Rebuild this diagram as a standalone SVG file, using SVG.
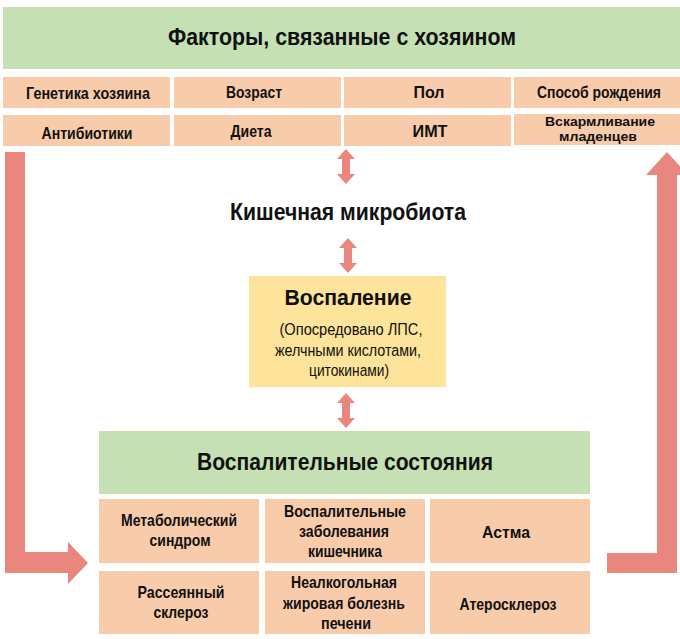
<svg xmlns="http://www.w3.org/2000/svg" width="680" height="639" viewBox="0 0 680 639">
<defs>
<style>
.green{fill:#c5e1b3}
.peach{fill:#f8cbab}
.yellow{fill:#fde49a}
.arr{fill:#e9877e}
text{font-family:"Liberation Sans","Arial",sans-serif;fill:#111;text-anchor:middle;font-weight:bold}
.h{font-size:23px}
.c{font-size:16.5px}
.f{font-size:13.5px}
.s{font-size:16px;font-weight:normal}
</style>
</defs>
<rect width="680" height="639" fill="#fff"/>
<g id="connectors">
<path class="arr" d="M5,152 H25 V552 H68 V542 L88,563 L68,584 V573 H5 Z"/>
<path class="arr" d="M607,553 H657 V175 H646 L667,152 L688,175 H677 V573 H607 Z"/>
<path class="arr" d="M346,149 L355,159 H350 V174 H355 L346,184 L337,174 H342 V159 H337 Z"/>
<path class="arr" d="M348,238 L357,248 H352 V263 H357 L348,273 L339,263 H344 V248 H339 Z"/>
<path class="arr" d="M346,393 L355,403 H350 V418 H355 L346,428 L337,418 H342 V403 H337 Z"/>
</g>
<g id="host-factors">
<rect class="green" x="3" y="7" width="677" height="62"/>
<text class="h" x="342" y="45" textLength="348" lengthAdjust="spacingAndGlyphs">Факторы, связанные с хозяином</text>
</g>
<g id="genetics"><rect class="peach" x="3" y="77" width="167" height="31"/><text class="c" x="88" y="99" textLength="124" lengthAdjust="spacingAndGlyphs">Генетика хозяина</text></g>
<g id="age"><rect class="peach" x="174" y="77" width="167" height="31"/><text class="c" x="254" y="98" textLength="56" lengthAdjust="spacingAndGlyphs">Возраст</text></g>
<g id="sex"><rect class="peach" x="344" y="77" width="167" height="31"/><text class="c" x="429" y="98" textLength="31" lengthAdjust="spacingAndGlyphs">Пол</text></g>
<g id="birth"><rect class="peach" x="514" y="77" width="166" height="31"/><text class="c" x="599" y="98" style="font-size:16px" textLength="124" lengthAdjust="spacingAndGlyphs">Способ рождения</text></g>
<g id="antibiotics"><rect class="peach" x="3" y="115" width="167" height="31"/><text class="c" x="87" y="139" textLength="91" lengthAdjust="spacingAndGlyphs">Антибиотики</text></g>
<g id="diet"><rect class="peach" x="174" y="115" width="167" height="31"/><text class="c" x="251" y="137" textLength="41" lengthAdjust="spacingAndGlyphs">Диета</text></g>
<g id="bmi"><rect class="peach" x="344" y="115" width="167" height="31"/><text class="c" x="430" y="137" textLength="35" lengthAdjust="spacingAndGlyphs">ИМТ</text></g>
<g id="feeding"><rect class="peach" x="514" y="114" width="166" height="31"/><text class="f" x="600" y="126" textLength="110" lengthAdjust="spacingAndGlyphs">Вскармливание</text><text class="f" x="598" y="141" textLength="78" lengthAdjust="spacingAndGlyphs">младенцев</text></g>
<g id="microbiota"><text class="h" x="348" y="220" textLength="236" lengthAdjust="spacingAndGlyphs">Кишечная микробиота</text></g>
<g id="inflammation">
<rect class="yellow" x="249" y="276" width="197" height="111"/>
<text class="h" x="348" y="305" style="font-size:22px" textLength="127" lengthAdjust="spacingAndGlyphs">Воспаление</text>
<text class="s" x="351" y="335" textLength="143" lengthAdjust="spacingAndGlyphs">(Опосредовано ЛПС,</text>
<text class="s" x="348" y="356" textLength="146" lengthAdjust="spacingAndGlyphs">желчными кислотами,</text>
<text class="s" x="349" y="376" textLength="80" lengthAdjust="spacingAndGlyphs">цитокинами)</text>
</g>
<g id="conditions">
<rect class="green" x="99" y="431" width="491" height="63"/>
<text class="h" x="345" y="470" textLength="296" lengthAdjust="spacingAndGlyphs">Воспалительные состояния</text>
</g>
<g id="metabolic"><rect class="peach" x="99" y="499" width="160" height="64"/><text class="c" x="179" y="526" textLength="116" lengthAdjust="spacingAndGlyphs">Метаболический</text><text class="c" x="180" y="546" textLength="61" lengthAdjust="spacingAndGlyphs">синдром</text></g>
<g id="ibd"><rect class="peach" x="265" y="499" width="160" height="64"/><text class="c" x="345" y="517" textLength="122" lengthAdjust="spacingAndGlyphs">Воспалительные</text><text class="c" x="344" y="537" textLength="90" lengthAdjust="spacingAndGlyphs">заболевания</text><text class="c" x="345" y="557" textLength="74" lengthAdjust="spacingAndGlyphs">кишечника</text></g>
<g id="asthma"><rect class="peach" x="430" y="499" width="160" height="64"/><text class="c" x="506" y="538" textLength="48" lengthAdjust="spacingAndGlyphs">Астма</text></g>
<g id="ms"><rect class="peach" x="99" y="571" width="160" height="63"/><text class="c" x="181" y="598" textLength="87" lengthAdjust="spacingAndGlyphs">Рассеянный</text><text class="c" x="181" y="618" textLength="55" lengthAdjust="spacingAndGlyphs">склероз</text></g>
<g id="nafld"><rect class="peach" x="265" y="571" width="160" height="63"/><text class="c" x="344" y="588" textLength="106" lengthAdjust="spacingAndGlyphs">Неалкогольная</text><text class="c" x="344" y="609" textLength="122" lengthAdjust="spacingAndGlyphs">жировая болезнь</text><text class="c" x="346" y="629" textLength="50" lengthAdjust="spacingAndGlyphs">печени</text></g>
<g id="athero"><rect class="peach" x="430" y="571" width="160" height="63"/><text class="c" x="508" y="610" textLength="97" lengthAdjust="spacingAndGlyphs">Атеросклероз</text></g>
</svg>
